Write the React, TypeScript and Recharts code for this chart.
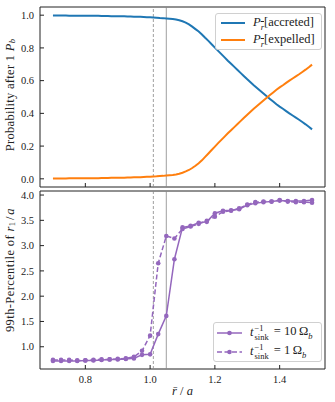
import { Label, Legend, Line, LineChart, ReferenceArea, ReferenceLine, XAxis, YAxis } from "recharts";

const FONT = "'Liberation Serif', 'DejaVu Serif', serif";
const INK = "#222";
const BLUE = "#1f77b4";
const ORANGE = "#ff7f0e";
const PURPLE = "#9467bd";
const GUIDE = "#888";

// top panel: fine grid in r/a
const rFine = [
  0.70, 0.71, 0.72, 0.73, 0.74, 0.75, 0.76, 0.77, 0.78, 0.79,
  0.80, 0.81, 0.82, 0.83, 0.84, 0.85, 0.86, 0.87, 0.88, 0.89,
  0.90, 0.91, 0.92, 0.93, 0.94, 0.95, 0.96, 0.97, 0.98, 0.99,
  1.00, 1.01, 1.02, 1.03, 1.04, 1.05, 1.06, 1.07, 1.08, 1.09,
  1.10, 1.11, 1.12, 1.13, 1.14, 1.15, 1.16, 1.17, 1.18, 1.19,
  1.20, 1.21, 1.22, 1.23, 1.24, 1.25, 1.26, 1.27, 1.28, 1.29,
  1.30, 1.31, 1.32, 1.33, 1.34, 1.35, 1.36, 1.37, 1.38, 1.39,
  1.40, 1.41, 1.42, 1.43, 1.44, 1.45, 1.46, 1.47, 1.48, 1.49,
  1.50,
];
const pAccreted = [
  0.998, 0.998, 0.998, 0.998, 0.998, 0.997, 0.997, 0.997, 0.997, 0.997,
  0.997, 0.996, 0.996, 0.996, 0.996, 0.995, 0.995, 0.995, 0.994, 0.994,
  0.994, 0.993, 0.993, 0.992, 0.992, 0.991, 0.990, 0.990, 0.989, 0.988,
  0.987, 0.986, 0.985, 0.983, 0.982, 0.980, 0.978, 0.976, 0.973, 0.969,
  0.963, 0.955, 0.944, 0.930, 0.915, 0.900, 0.882, 0.862, 0.843, 0.822,
  0.802, 0.782, 0.762, 0.742, 0.722, 0.703, 0.684, 0.665, 0.646, 0.627,
  0.608, 0.590, 0.572, 0.555, 0.538, 0.521, 0.504, 0.488, 0.472, 0.456,
  0.441, 0.428, 0.414, 0.400, 0.387, 0.374, 0.361, 0.347, 0.333, 0.318,
  0.302,
];
const pExpelled = [
  0.002, 0.002, 0.002, 0.002, 0.002, 0.003, 0.003, 0.003, 0.003, 0.003,
  0.003, 0.004, 0.004, 0.004, 0.004, 0.005, 0.005, 0.005, 0.006, 0.006,
  0.006, 0.007, 0.007, 0.008, 0.008, 0.009, 0.010, 0.010, 0.011, 0.012,
  0.013, 0.014, 0.015, 0.017, 0.018, 0.020, 0.022, 0.024, 0.027, 0.031,
  0.037, 0.045, 0.054, 0.066, 0.080, 0.095, 0.113, 0.134, 0.155, 0.176,
  0.197, 0.218, 0.238, 0.258, 0.278, 0.297, 0.316, 0.335, 0.354, 0.373,
  0.392, 0.410, 0.428, 0.445, 0.462, 0.479, 0.496, 0.512, 0.528, 0.544,
  0.559, 0.572, 0.586, 0.600, 0.613, 0.626, 0.639, 0.653, 0.667, 0.682,
  0.698,
];

// bottom panel: 99th percentile of r1/a
const rCoarse = [
  0.7, 0.725, 0.75, 0.775, 0.8, 0.825, 0.85, 0.875, 0.9, 0.925, 0.95,
  0.975, 1.0, 1.025, 1.05, 1.075, 1.1, 1.125, 1.15, 1.175, 1.2, 1.225,
  1.25, 1.275, 1.3, 1.325, 1.35, 1.375, 1.4, 1.425, 1.45, 1.475, 1.5,
];
const pct10 = [
  0.72, 0.72, 0.72, 0.72, 0.73, 0.73, 0.74, 0.75, 0.75, 0.76, 0.77,
  0.84, 0.85, 1.25, 1.61, 2.73, 3.36, 3.39, 3.45, 3.47, 3.64, 3.69,
  3.70, 3.72, 3.80, 3.84, 3.86, 3.87, 3.89, 3.88, 3.88, 3.88, 3.90,
];
const pct1 = [
  0.74, 0.74, 0.74, 0.73, 0.73, 0.74, 0.75, 0.75, 0.76, 0.77, 0.80,
  0.92, 1.22, 2.65, 3.19, 3.14, 3.33, 3.38, 3.43, 3.49, 3.57, 3.67,
  3.69, 3.74, 3.81, 3.86, 3.87, 3.87, 3.90, 3.87, 3.86, 3.86, 3.85,
];

const xTicks = [0.8, 1.0, 1.2, 1.4];
const probTicks = [0, 0.2, 0.4, 0.6, 0.8, 1.0];
const pctTicks = [1.0, 1.5, 2.0, 2.5, 3.0, 3.5, 4.0];
const xDomain: [number, number] = [0.66, 1.54];
const probDomain: [number, number] = [-0.05, 1.05];
const pctDomain: [number, number] = [0.56, 4.08];
const rDashed = 1.01;
const rSolid = 1.05;

const probData = rFine.map((r, i) => ({ r, accreted: pAccreted[i], expelled: pExpelled[i] }));
const pctData = rCoarse.map((r, i) => ({ r, s10: pct10[i], s1: pct1[i] }));

const tickStyle = { fill: INK, fontSize: 10.5, fontFamily: FONT };
const fmt = (v: number) => v.toFixed(1);
const legendBox = {
  border: "1px solid #d0d0d0", borderRadius: 3, background: "#fff",
  fontFamily: FONT, fontSize: 12.5, color: INK, padding: "1px 3px 1px 5px", boxSizing: "border-box" as const,
};

const ProbLegend = () => (
  <div style={{ ...legendBox, width: 107, height: 37 }}>
    {[{ c: BLUE, t: "accreted" }, { c: ORANGE, t: "expelled" }].map(e => (
      <div key={e.t} style={{ display: "flex", alignItems: "center", height: 16.5 }}>
        <svg width={24} height={6} style={{ marginRight: 8 }}><line x1={0} x2={24} y1={3} y2={3} stroke={e.c} strokeWidth={2}/></svg>
        <span><i>P</i><sub style={{ fontSize: 8.5 }}><i style={{ textDecoration: "overline" }}>r</i></sub>[{e.t}]</span>
      </div>
    ))}
  </div>
);

const PctLegend = () => (
  <div style={{ ...legendBox, width: 109, height: 40, padding: "0 3px 0 3px" }}>
    {[{ dash: undefined, v: "10" }, { dash: "5 2.5", v: "1" }].map(e => (
      <div key={e.v} style={{ display: "flex", alignItems: "center", height: 19 }}>
        <svg width={25} height={6} style={{ marginRight: 8 }}>
          <line x1={0} x2={25} y1={3} y2={3} stroke={PURPLE} strokeWidth={1.5} strokeDasharray={e.dash}/>
          <circle cx={12.5} cy={3} r={2.3} fill={PURPLE}/>
        </svg>
        <span style={{ display: "flex", alignItems: "center" }}>
          <i>t</i>
          <span style={{ display: "inline-flex", flexDirection: "column", fontSize: 8.5, lineHeight: "8.5px", margin: "0 2px 0 1px" }}>
            <span>−1</span><span>sink</span>
          </span>
          <span>&nbsp;= {e.v}&thinsp;Ω<sub style={{ fontSize: 8.5 }}><i>b</i></sub></span>
        </span>
      </div>
    ))}
  </div>
);

const App = () => (
  <div style={{ position: "absolute", left: 0, top: 0, width: 335, height: 402, background: "#fff" }}>
    <div style={{ position: "absolute", left: 0, top: 0 }}>
      <LineChart width={335} height={190} data={probData} margin={{ top: 7, right: 10, bottom: 0, left: 0 }}>
        <XAxis dataKey="r" type="number" domain={xDomain} ticks={xTicks} height={3} axisLine={false}
               tickSize={-4} tickFormatter={() => ""} stroke={INK} allowDataOverflow/>
        <YAxis type="number" domain={probDomain} ticks={probTicks} width={40} axisLine={false}
               tickSize={-4} tickMargin={10} tickFormatter={fmt} tick={tickStyle} stroke={INK} allowDataOverflow>
          <Label content={() => (
            <text x={11} y={95} transform="rotate(-90 11 95)" textAnchor="middle" dominantBaseline="middle"
                  fontFamily={FONT} fontSize={12.5} letterSpacing={0.3} fill={INK}>
              Probability after 1 <tspan fontStyle="italic">P</tspan>
              <tspan fontStyle="italic" fontSize={8.5} dy={2}>b</tspan>
            </text>
          )}/>
        </YAxis>
        <ReferenceLine x={rDashed} stroke={GUIDE} strokeWidth={0.8} strokeDasharray="3 2"/>
        <ReferenceLine x={rSolid} stroke={GUIDE} strokeWidth={0.8}/>
        <Line dataKey="accreted" stroke={BLUE} strokeWidth={2} dot={false} isAnimationActive={false}/>
        <Line dataKey="expelled" stroke={ORANGE} strokeWidth={2} dot={false} isAnimationActive={false}/>
        <ReferenceArea x1={xDomain[0]} x2={xDomain[1]} y1={probDomain[0]} y2={probDomain[1]} fill="none" stroke={INK} strokeWidth={1}/>
        <Legend layout="vertical" align="center" verticalAlign="middle" content={<ProbLegend/>}
                wrapperStyle={{ left: 215, top: 13, width: 107, height: 37 }}/>
      </LineChart>
    </div>
    <div style={{ position: "absolute", left: 0, top: 189 }}>
      <LineChart width={335} height={213} data={pctData} margin={{ top: 2, right: 10, bottom: 0, left: 0 }}>
        <XAxis dataKey="r" type="number" domain={xDomain} ticks={xTicks} height={33} axisLine={false}
               tickSize={-4} tickMargin={11} tickFormatter={fmt} tick={tickStyle} stroke={INK} allowDataOverflow>
          <Label content={() => (
            <text x={182.5} y={203} textAnchor="middle" dominantBaseline="middle" fontFamily={FONT} fontSize={12.5} fill={INK}>
              <tspan fontStyle="italic">r̄</tspan> / <tspan fontStyle="italic">a</tspan>
            </text>
          )}/>
        </XAxis>
        <YAxis type="number" domain={pctDomain} ticks={pctTicks} width={40} axisLine={false}
               tickSize={-4} tickMargin={10} tickFormatter={fmt} tick={tickStyle} stroke={INK} allowDataOverflow>
          <Label content={() => (
            <text x={11} y={81} transform="rotate(-90 11 81)" textAnchor="middle" dominantBaseline="middle"
                  fontFamily={FONT} fontSize={12.5} letterSpacing={0.4} fill={INK}>
              99th-Percentile of <tspan fontStyle="italic">r</tspan>
              <tspan fontSize={8.5} dy={2}>1</tspan>
              <tspan dy={-2} dx={1.5}>/</tspan><tspan fontStyle="italic" dx={1.5}>a</tspan>
            </text>
          )}/>
        </YAxis>
        <ReferenceLine x={rDashed} stroke={GUIDE} strokeWidth={0.8} strokeDasharray="3 2"/>
        <ReferenceLine x={rSolid} stroke={GUIDE} strokeWidth={0.8}/>
        <Line dataKey="s10" stroke={PURPLE} strokeWidth={1.5} isAnimationActive={false}
              dot={{ r: 2.3, fill: PURPLE, stroke: PURPLE, strokeWidth: 0 }}/>
        <Line dataKey="s1" stroke={PURPLE} strokeWidth={1.5} strokeDasharray="5 2.5" isAnimationActive={false}
              dot={{ r: 2.3, fill: PURPLE, stroke: PURPLE, strokeWidth: 0, strokeDasharray: "" }}/>
        <ReferenceArea x1={xDomain[0]} x2={xDomain[1]} y1={pctDomain[0]} y2={pctDomain[1]} fill="none" stroke={INK} strokeWidth={1}/>
        <Legend layout="vertical" align="center" verticalAlign="middle" content={<PctLegend/>}
                wrapperStyle={{ left: 213, top: 133, width: 109, height: 40 }}/>
      </LineChart>
    </div>
  </div>
);

export default App;
